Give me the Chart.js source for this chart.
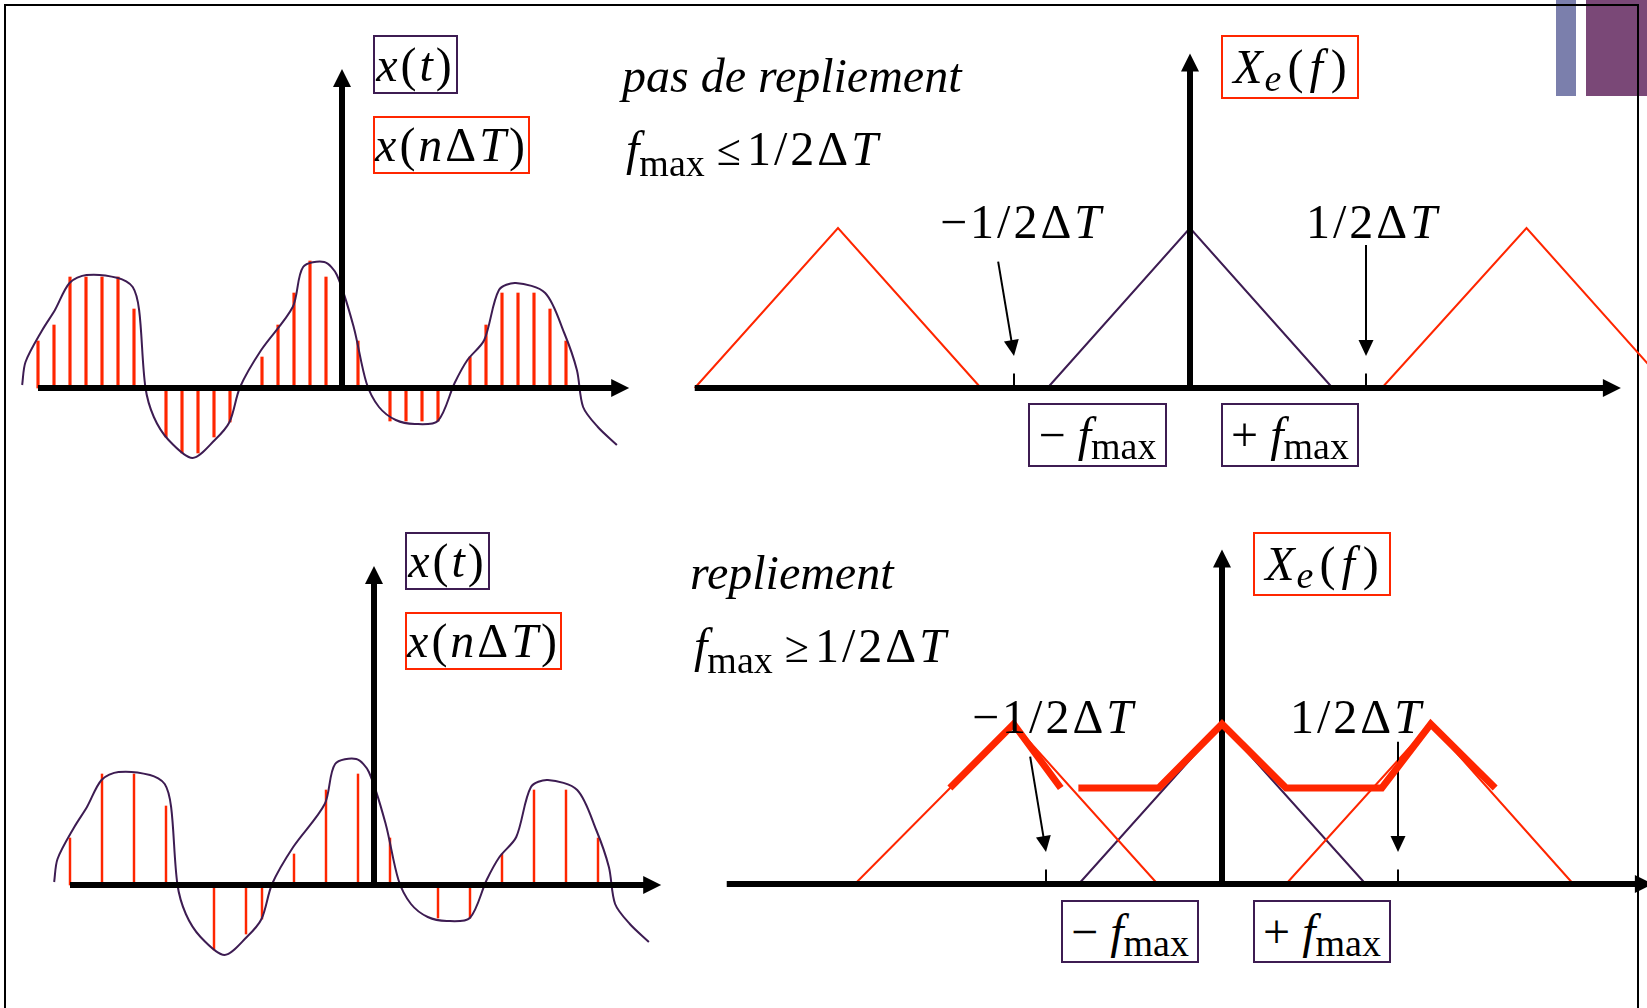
<!DOCTYPE html>
<html lang="fr">
<head>
<meta charset="utf-8">
<title>Repliement spectral</title>
<script src="https://cdn.jsdelivr.net/npm/chart.js@4.4.1/dist/chart.umd.min.js"></script>
<style>
  body { margin: 0; background: #fff; }
  #page { position: relative; width: 1647px; height: 1008px; overflow: hidden; background: #fff; }
  canvas { position: absolute; }
  .bande { position: absolute; top: 0; height: 96px; }
  #cadre { position: absolute; left: 4px; top: 4px; width: 1635px; height: 1100px; border: 2px solid #000; box-sizing: border-box; }
  .texte { position: absolute; font-family: "Liberation Serif", "DejaVu Serif", serif; font-size: 48px; line-height: 1; white-space: nowrap; color: #000; }
  .boite { position: absolute; box-sizing: border-box; border: 2px solid; display: flex; align-items: center; justify-content: center;
           font-family: "Liberation Serif", "DejaVu Serif", serif; font-size: 48px; line-height: 1; white-space: nowrap; color: #000; }
  .violet { border-color: #3d1c52; }
  .rouge { border-color: #ff2600; }
  .ind { font-size: 38px; position: relative; top: 11px; }
  .maths { letter-spacing: 3px; }
  .rel { font-size: 44px; margin: 0 6px 0 12px; }
</style>
</head>
<body>
<div id="page">
  <div class="bande" style="left:1556px;width:20px;background:#7b7fac"></div>
  <div class="bande" style="left:1586px;width:61px;background:#7a4877"></div>
  <div id="cadre"></div>

  <canvas id="tempsHaut" width="640" height="440" style="left:6px;top:38px"></canvas>
  <canvas id="tempsBas" width="640" height="440" style="left:38px;top:535px"></canvas>
  <canvas id="freqHaut" width="990" height="368" style="left:662px;top:36px"></canvas>
  <canvas id="freqBas" width="990" height="368" style="left:694px;top:532px"></canvas>

  <!-- en haut : pas de repliement -->
  <div class="boite violet maths" style="left:373px;top:35px;width:85px;height:59px"><i>x</i>(<i>t</i>)</div>
  <div class="boite rouge maths" style="left:373px;top:116px;width:157px;height:58px"><i>x</i>(<i>n</i>Δ<i>T</i>)</div>
  <div class="texte" style="left:622px;top:52px"><i>pas de repliement</i></div>
  <div class="texte" style="left:626px;top:125px"><i>f</i><span class="ind">max</span><span class="rel">≤</span><span class="maths">1/2Δ<i>T</i></span></div>
  <div class="texte maths" style="left:940px;top:198px">−1/2Δ<i>T</i></div>
  <div class="texte maths" style="left:1306px;top:198px">1/2Δ<i>T</i></div>
  <div class="boite rouge" style="left:1221px;top:35px;width:138px;height:64px"><i>X</i><span class="ind" style="margin-left:2px"><i>e</i></span><span style="margin-left:6px">(</span><i style="margin:0 8px 0 6px">f</i>)</div>
  <div class="boite violet" style="left:1028px;top:403px;width:139px;height:64px">−&nbsp;<i>f</i><span class="ind">max</span></div>
  <div class="boite violet" style="left:1221px;top:403px;width:138px;height:64px">+&nbsp;<i>f</i><span class="ind">max</span></div>

  <!-- en bas : repliement -->
  <div class="boite violet maths" style="left:405px;top:532px;width:85px;height:58px"><i>x</i>(<i>t</i>)</div>
  <div class="boite rouge maths" style="left:405px;top:612px;width:157px;height:58px"><i>x</i>(<i>n</i>Δ<i>T</i>)</div>
  <div class="texte" style="left:690px;top:549px"><i>repliement</i></div>
  <div class="texte" style="left:694px;top:622px"><i>f</i><span class="ind">max</span><span class="rel">≥</span><span class="maths">1/2Δ<i>T</i></span></div>
  <div class="texte maths" style="left:972px;top:693px">−1/2Δ<i>T</i></div>
  <div class="texte maths" style="left:1290px;top:693px">1/2Δ<i>T</i></div>
  <div class="boite rouge" style="left:1253px;top:532px;width:138px;height:64px"><i>X</i><span class="ind" style="margin-left:2px"><i>e</i></span><span style="margin-left:6px">(</span><i style="margin:0 8px 0 6px">f</i>)</div>
  <div class="boite violet" style="left:1061px;top:900px;width:138px;height:63px">−&nbsp;<i>f</i><span class="ind">max</span></div>
  <div class="boite violet" style="left:1253px;top:900px;width:138px;height:63px">+&nbsp;<i>f</i><span class="ind">max</span></div>
</div>

<script>
// signal x(t) : temps en unites de dT, amplitude en unites arbitraires
const tempsSignal = [-19.99, -19.78, -18.73, -17.94, -17.03, -15.97, -14.0, -13.08, -12.68, -12.29,
  -11.76, -10.84, -9.34, -7.95, -7.03, -6.37, -5.05, -3.08, -2.43, -1.11, -0.32, 0.73, 1.53, 2.31,
  3.36, 4.55, 5.99, 7.04, 7.84, 8.89, 9.81, 10.86, 12.7, 13.89, 14.68, 15.07, 15.99, 17.18];
const amplitudeSignal = [0.03, 0.26, 0.58, 0.78, 1.05, 1.13, 1.10, 1.01, 0.78, 0.01,
  -0.29, -0.52, -0.70, -0.52, -0.34, 0.01, 0.38, 0.81, 1.21, 1.26, 1.13, 0.61, 0.05, -0.19,
  -0.32, -0.36, -0.33, 0.05, 0.28, 0.48, 0.98, 1.05, 0.95, 0.55, 0.18, -0.19, -0.39, -0.57];

// echantillons x(n dT), n = -19 .. 14 (null : pas de trait)
const indicesEchantillons = [-19, -18, -17, -16, -15, -14, -13, -12, -11, -10, -9, -8, -7, -6, -5, -4, -3,
  -2, -1, 0, 1, 2, 3, 4, 5, 6, 7, 8, 9, 10, 11, 12, 13, 14];
const valeursEchantillons = [0.47, 0.63, 1.11, 1.11, 1.11, 1.11, 0.79, null, -0.49, -0.65, -0.65, -0.49,
  -0.34, null, 0.31, 0.63, 0.95, 1.27, 1.11, null, 0.47, null, -0.33, -0.33, -0.33, -0.33, null,
  0.31, 0.63, 0.95, 0.95, 0.95, 0.79, 0.47];
// echantillonnage plus lache du cas avec repliement
const indicesRepliement = [-19, -17, -15, -13, -10, -8, -7, -5, -3, -1, 1, 4, 6, 8, 10, 12, 14];

const axeTemps = [-19, 17.95];
const hauteurAxeTemps = 3.19;

// spectres : frequence en unites de 1/dT, amplitude relative au sommet
const ampTriangle = [0, 1, 0];
const freqCentralHaut = [-0.405, 0, 0.405];
const freqGaucheHaut = [-1.407, -1.0, -0.594];
const freqDroiteHaut = [0.545, 0.956, 1.362];

const freqCentralBas = [-0.407, 0, 0.408];
const freqGaucheBas = [-1.043, -0.592, -0.183];
const freqDroiteBas = [0.182, 0.593, 0.998];
// spectre replie (trait epais)
const freqSommeA = [-0.773, -0.592, -0.458];
const ampSommeA = [0.6, 1, 0.6];
const freqSommeB = [-0.408, -0.180, 0, 0.182, 0.454, 0.593, 0.776];
const ampSommeB = [0.6, 0.6, 1, 0.6, 0.6, 1, 0.6];

const freqRepere = [-0.5, 0.5];       // +-1/2dT
const hauteurRepere = 0.09;
const axeFreq = [-1.407, 1.224];
const hauteurAxeFreq = 2.09;
const flecheGaucheF = [-0.545, -0.5];
const flecheGaucheHaut = [0.79, 0.2];
const flecheDroiteHaut = [0.894, 0.2];
const flecheGaucheBas = [0.796, 0.2];
const flecheDroiteBas = [0.889, 0.2];

const ROUGE = '#ff2600';
const VIOLET = '#3d1c52';
const FLECHE_AXE = { longueur: 18, demiLargeur: 9 };
const FLECHE_FINE = { longueur: 16, demiLargeur: 7.5 };

// pointe de fleche au dernier point des datasets qui ont "fleche"
const pluginFleches = {
  id: 'fleches',
  beforeDatasetDraw(chart, args) {
    const ds = chart.data.datasets[args.index];
    if (!ds.fleche) return;
    const pts = args.meta.data;
    const a = pts[pts.length - 2], b = pts[pts.length - 1];
    const angle = Math.atan2(b.y - a.y, b.x - a.x);
    ds.pointe = { x: b.x, y: b.y, angle: angle };
    // on raccourcit le trait pour que la pointe reste fine
    b.x -= Math.cos(angle) * ds.fleche.longueur * 0.8;
    b.y -= Math.sin(angle) * ds.fleche.longueur * 0.8;
  },
  afterDatasetDraw(chart, args) {
    const ds = chart.data.datasets[args.index];
    if (!ds.fleche || !ds.pointe) return;
    const pts = args.meta.data;
    const b = pts[pts.length - 1];
    const p = ds.pointe;
    b.x = p.x; b.y = p.y;
    const L = ds.fleche.longueur, W = ds.fleche.demiLargeur;
    const c = Math.cos(p.angle), s = Math.sin(p.angle);
    const bx = p.x - c * L, by = p.y - s * L;
    const ctx = chart.ctx;
    ctx.save();
    ctx.fillStyle = ds.borderColor;
    ctx.beginPath();
    ctx.moveTo(p.x, p.y);
    ctx.lineTo(bx - s * W, by + c * W);
    ctx.lineTo(bx + s * W, by - c * W);
    ctx.closePath();
    ctx.fill();
    ctx.restore();
  }
};

function enPoints(xs, ys) {
  return xs.map((x, i) => ({ x: x, y: ys[i] }));
}

function ligne(donnees, couleur, epaisseur, ordre, extra) {
  return Object.assign({
    type: 'line', data: donnees, borderColor: couleur, borderWidth: epaisseur,
    pointRadius: 0, fill: false, tension: 0, order: ordre,
    borderCapStyle: 'butt', borderJoinStyle: 'miter'
  }, extra || {});
}

function optionsGraphe(xmin, xmax, ymin, ymax) {
  return {
    responsive: false, animation: false, events: [],
    layout: { padding: 0 },
    plugins: { legend: { display: false }, tooltip: { enabled: false } },
    scales: {
      // offset:false sinon le dataset "bar" ajoute une marge sur l'axe x
      x: { type: 'linear', min: xmin, max: xmax, offset: false, display: false },
      y: { type: 'linear', min: ymin, max: ymax, display: false }
    }
  };
}

function grapheTemps(id, indices, epaisseurTige) {
  const tiges = indices
    .map(n => ({ x: n, y: valeursEchantillons[indicesEchantillons.indexOf(n)] }))
    .filter(p => p.y !== null);
  new Chart(document.getElementById(id), {
    type: 'line',
    data: {
      datasets: [
        ligne(enPoints(axeTemps, [0, 0]), '#000', 6, 0, { fleche: FLECHE_AXE }),
        ligne(enPoints([0, 0], [0, hauteurAxeTemps]), '#000', 6, 0, { fleche: FLECHE_AXE }),
        ligne(enPoints(tempsSignal, amplitudeSignal), VIOLET, 2, 1, { tension: 0.3, borderJoinStyle: 'round' }),
        { type: 'bar', data: tiges, backgroundColor: ROUGE, borderWidth: 0, barThickness: epaisseurTige, order: 2 }
      ]
    },
    options: optionsGraphe(-21, 19, -0.9, 3.5),
    plugins: [pluginFleches]
  });
}

function grapheFrequence(id, triangles, epais, flecheG, flecheD) {
  const jeux = [
    ligne(enPoints(axeFreq, [0, 0]), '#000', 6, 1, { fleche: FLECHE_AXE }),
    ligne(enPoints([0, 0], [0, hauteurAxeFreq]), '#000', 6, 1, { fleche: FLECHE_AXE }),
    ligne(enPoints([freqRepere[0], freqRepere[0]], [0, hauteurRepere]), '#000', 2, 1),
    ligne(enPoints([freqRepere[1], freqRepere[1]], [0, hauteurRepere]), '#000', 2, 1),
    ligne(enPoints(flecheGaucheF, flecheG), '#000', 2, 1, { fleche: FLECHE_FINE }),
    ligne(enPoints([freqRepere[1], freqRepere[1]], flecheD), '#000', 2, 1, { fleche: FLECHE_FINE }),
    ligne(enPoints(triangles[0], ampTriangle), VIOLET, 2, 3),
    ligne(enPoints(triangles[1], ampTriangle), ROUGE, 2, 2),
    ligne(enPoints(triangles[2], ampTriangle), ROUGE, 2, 2)
  ];
  epais.forEach(e => jeux.push(ligne(enPoints(e[0], e[1]), ROUGE, 7, 0)));
  new Chart(document.getElementById(id), {
    type: 'line',
    data: { datasets: jeux },
    options: optionsGraphe(-1.5, 1.3125, -0.1, 2.2),
    plugins: [pluginFleches]
  });
}

grapheTemps('tempsHaut', indicesEchantillons, 2.5);
grapheTemps('tempsBas', indicesRepliement, 1.8);
grapheFrequence('freqHaut', [freqCentralHaut, freqGaucheHaut, freqDroiteHaut], [],
  flecheGaucheHaut, flecheDroiteHaut);
grapheFrequence('freqBas', [freqCentralBas, freqGaucheBas, freqDroiteBas],
  [[freqSommeA, ampSommeA], [freqSommeB, ampSommeB]], flecheGaucheBas, flecheDroiteBas);
</script>
</body>
</html>
